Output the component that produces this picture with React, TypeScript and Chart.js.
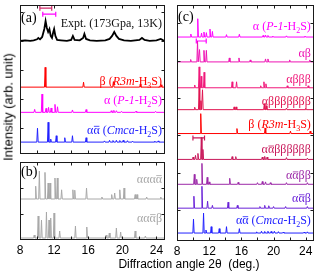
import React, { useEffect, useRef } from 'react';
import { Chart, registerables } from 'chart.js';

Chart.register(...registerables);

const W = 319;
const H = 272;

// ---------------- axes ----------------
const X_MIN = 8;
const X_MAX = 25;
const xTickLabels = [8, 12, 16, 20, 24];
const xMinorTicks = [8, 10, 12, 14, 16, 18, 20, 22, 24];

// ---------------- experimental pattern (2θ, intensity) ----------------
const exptTheta = [8, 8.6, 9.2, 9.6, 10.0, 10.15, 10.35, 10.6, 10.85, 11.0, 11.15, 11.3, 11.45, 11.6, 11.75, 11.9, 12.0, 12.15, 12.35, 12.8, 13.5, 14.0, 14.2, 14.4, 15.0, 15.4, 15.55, 15.75, 16.2, 17.0, 18.0, 18.5, 18.8, 19.05, 19.3, 19.6, 20.2, 21.0, 22.0, 22.3, 22.6, 23.2, 24.0, 24.5, 24.8, 25];
const exptInt = [0, 3, 0, 3, 8, 15, 8, 20, 60, 100, 65, 45, 60, 25, 15, 45, 60, 25, 5, 3, 0, 5, 25, 5, 3, 15, 35, 10, 3, 0, 3, 10, 25, 45, 25, 10, 3, 0, 5, 15, 5, 0, 3, 10, 3, 0];

// ---------------- simulated peak lists (2θ, intensity) ----------------
const betaPos = [10.95, 15.45, 18.95, 22.1, 24.55];
const betaInt = [100, 25, 28, 12, 12];

const alphaPos = [9.72, 10.58, 11.05, 11.35, 11.65, 12.1, 12.4, 14.15, 15.75, 18.7, 19.0, 19.3, 19.9, 21.6, 23.9];
const alphaInt = [15, 92, 20, 25, 22, 40, 28, 12, 14, 8, 10, 8, 5, 6, 5];

const cmcaPos = [10.05, 11.3, 11.6, 12.25, 13.25, 14.15, 15.75, 17.9, 18.5, 18.9, 19.3, 19.7, 20.1, 20.6, 21.2, 23.8, 24.2];
const cmcaInt = [70, 100, 15, 32, 22, 32, 22, 6, 9, 8, 9, 8, 9, 7, 5, 5, 6];

const aaaAPos = [9.84, 10.27, 10.93, 11.3, 11.52, 12.1, 12.37, 12.88, 14.2, 14.42, 15.8, 17.6, 18.75, 19.1, 19.7, 20.2, 21.5, 21.72, 22.85, 24.5];
const aaaAInt = [64, 140, 133, 80, 80, 105, 105, 46, 46, 44, 55, 10, 22, 30, 46, 55, 22, 22, 10, 10];

const aaAbPos = [9.67, 10.13, 10.52, 11.1, 11.4, 11.6, 11.99, 12.65, 14.5, 15.83, 18.1, 18.47, 19.3, 19.8, 21.5, 22.7];
const aaAbInt = [15, 110, 90, 130, 90, 100, 125, 35, 60, 55, 15, 25, 50, 30, 35, 10];

const abPos = [9.7, 10.55, 10.8, 11.35, 11.65, 14.5, 15.7, 17.1, 19.0, 19.3, 22.0, 24.5];
const abInt = [12, 105, 62, 58, 58, 20, 20, 10, 15, 15, 10, 10];

const ab3Pos = [10.2, 10.75, 11.0, 11.37, 14.85, 15.4, 18.4, 18.8, 19.05, 21.7, 24.3];
const ab3Int = [14, 105, 58, 78, 30, 30, 10, 30, 20, 10, 10];

const ab7Pos = [10.2, 10.75, 10.97, 11.17, 15.1, 15.35, 18.85, 19.1, 21.6, 24.0];
const ab7Int = [12, 120, 45, 100, 14, 14, 30, 20, 8, 8];

const aAb6Pos = [10.0, 10.3, 10.6, 11.02, 11.22, 14.85, 15.3, 18.6, 18.9, 19.2, 21.6, 24.2];
const aAb6Int = [12, 20, 30, 110, 50, 14, 14, 12, 15, 12, 9, 6];

const aAbbPos = [10.15, 10.45, 11.1, 11.75, 12.0, 14.55, 15.6, 18.0, 18.6, 19.0, 19.6, 21.6, 24.2];
const aAbbInt = [50, 25, 105, 35, 12, 30, 10, 8, 14, 12, 8, 8, 8];

const aAbPos = [10.1, 11.1, 11.8, 12.4, 14.35, 15.5, 18.3, 18.9, 19.4, 20.0, 21.5, 24.2];
const aAbInt = [60, 110, 35, 14, 30, 14, 8, 14, 12, 8, 8, 8];

// peak-splitting markers (2θ range)
const bracketA1 = [10.33, 11.72];
const bracketA2 = [10.67, 12.19];
const bracketC1 = [10.4, 11.63];
const bracketC2 = [9.98, 11.42];

// labels
const lblExpt = 'Expt. (173Gpa, 13K)';
const lblBeta = 'β (<i>R3m</i>-H<sub>3</sub>S)';
const lblAlpha = 'α (<i>P-1</i>-H<sub>2</sub>S)';
const lblCmca = 'α<o>α</o> (<i>Cmca</i>-H<sub>2</sub>S)';
const lblAaaA = 'ααα<o>α</o>';
const lblAaAb = 'αα<o>α</o>β';
const lblAb = 'αβ';
const lblAb3 = 'αβββ';
const lblAb7 = 'αβββββββ';
const lblAAb6 = 'α<o>α</o>ββββββ';
const lblAAbb = 'α<o>α</o>ββ';
const lblAAb = 'α<o>α</o>β';

// ---------------- styling / layout ----------------
const PEAK_HALF = 0.08;
const AXIS_H = 12 * 1.2 + 2 * 3;

type Trace = { theta?: number[]; ints?: number[]; pos?: number[]; peaks?: number[]; base: number; color: string; width: number; label: string; level: number };
type Bracket = { range: number[]; level: number; color: string };
type Panel = { id: string; left: number; top: number; right: number; bottom: number; yMax: number; yTicks: number[]; showX: boolean; letter: string; letterDy: number; traces: Trace[]; brackets: Bracket[] };

const C_BLACK = '#000000';
const C_RED = '#ff0000';
const C_MAG = '#ff00ff';
const C_BLUE = '#2222ff';
const C_GRAY = '#a8a8a8';
const C_AB = '#ee14b4';
const C_AB3 = '#f0187a';
const C_AB7 = '#e01450';
const C_AAB6 = '#c8185a';
const C_AABB = '#9c2aa8';
const C_AAB = '#6a22d8';

const panels: Panel[] = [
  {
    id: 'a', left: 20, top: 4, right: 165, bottom: 154, yMax: 750,
    yTicks: [130, 276, 422, 568, 715], showX: false, letter: '(a)', letterDy: 17,
    traces: [
      { theta: exptTheta, ints: exptInt, base: 570, color: C_BLACK, width: 1.8, label: lblExpt, level: 640 },
      { pos: betaPos, peaks: betaInt, base: 337, color: C_RED, width: 1, label: lblBeta, level: 350 },
      { pos: alphaPos, peaks: alphaInt, base: 210, color: C_MAG, width: 1, label: lblAlpha, level: 250 },
      { pos: cmcaPos, peaks: cmcaInt, base: 60, color: C_BLUE, width: 1, label: lblCmca, level: 102 },
    ],
    brackets: [
      { range: bracketA1, level: 735, color: '#d02a6a' },
      { range: bracketA2, level: 705, color: C_MAG },
    ],
  },
  {
    id: 'b', left: 20, top: 162, right: 165, bottom: 240, yMax: 390,
    yTicks: [130, 260], showX: true, letter: '(b)', letterDy: 14,
    traces: [
      { pos: aaaAPos, peaks: aaaAInt, base: 205, color: C_GRAY, width: 1, label: lblAaaA, level: 285 },
      { pos: aaAbPos, peaks: aaAbInt, base: 10, color: C_GRAY, width: 1, label: lblAaAb, level: 90 },
    ],
    brackets: [],
  },
  {
    id: 'c', left: 177, top: 4, right: 315, bottom: 241, yMax: 1185,
    yTicks: [155, 343, 531, 719, 907, 1095], showX: true, letter: '(c)', letterDy: 16,
    traces: [
      { pos: alphaPos, peaks: alphaInt, base: 1025, color: C_MAG, width: 1, label: lblAlpha, level: 1060 },
      { pos: abPos, peaks: abInt, base: 900, color: C_AB, width: 1, label: lblAb, level: 925 },
      { pos: ab3Pos, peaks: ab3Int, base: 770, color: C_AB3, width: 1, label: lblAb3, level: 795 },
      { pos: ab7Pos, peaks: ab7Int, base: 660, color: C_AB7, width: 1, label: lblAb7, level: 685 },
      { pos: betaPos, peaks: betaInt, base: 540, color: C_RED, width: 1, label: lblBeta, level: 570 },
      { pos: aAb6Pos, peaks: aAb6Int, base: 410, color: C_AAB6, width: 1, label: lblAAb6, level: 440 },
      { pos: aAbbPos, peaks: aAbbInt, base: 285, color: C_AABB, width: 1, label: lblAAbb, level: 310 },
      { pos: aAbPos, peaks: aAbInt, base: 165, color: C_AAB, width: 1, label: lblAAb, level: 195 },
      { pos: cmcaPos, peaks: cmcaInt, base: 40, color: C_BLUE, width: 1, label: lblCmca, level: 85 },
    ],
    brackets: [
      { range: bracketC1, level: 1005, color: C_MAG },
      { range: bracketC2, level: 518, color: C_AAB6 },
    ],
  },
];

function tracePoints(t: Trace) {
  if (t.theta && t.ints) return t.theta.map((x, i) => ({ x, y: t.base + t.ints![i] }));
  const pts = [{ x: X_MIN, y: t.base }];
  (t.pos || []).forEach((p, i) => {
    pts.push({ x: p - PEAK_HALF, y: t.base }, { x: p, y: t.base + t.peaks![i] }, { x: p + PEAK_HALF, y: t.base });
  });
  pts.push({ x: X_MAX, y: t.base });
  return pts;
}

type Seg = { t: string; italic: boolean; sub: boolean; over: boolean };
function parseRich(s: string): Seg[] {
  const segs: Seg[] = [];
  let italic = false, sub = false, over = false;
  s.split(/(<\/?(?:i|sub|o)>)/).forEach((tok) => {
    if (tok === '<i>') italic = true;
    else if (tok === '</i>') italic = false;
    else if (tok === '<sub>') sub = true;
    else if (tok === '</sub>') sub = false;
    else if (tok === '<o>') over = true;
    else if (tok === '</o>') over = false;
    else if (tok) segs.push({ t: tok, italic, sub, over });
  });
  return segs;
}

function drawRich(ctx: CanvasRenderingContext2D, text: string, xRight: number, yBase: number, color: string, size: number) {
  const segs = parseRich(text);
  const fontOf = (s: Seg) => `${s.italic ? 'italic ' : ''}${s.sub ? Math.round(size * 0.7) : size}px "Liberation Serif"`;
  const widths = segs.map((s) => { ctx.font = fontOf(s); return ctx.measureText(s.t).width; });
  let x = xRight - widths.reduce((a, b) => a + b, 0);
  ctx.fillStyle = color;
  ctx.strokeStyle = color;
  ctx.textAlign = 'left';
  ctx.textBaseline = 'alphabetic';
  segs.forEach((s, i) => {
    ctx.font = fontOf(s);
    ctx.fillText(s.t, x, yBase + (s.sub ? size * 0.25 : 0));
    if (s.over) {
      ctx.lineWidth = 0.8;
      ctx.beginPath();
      const oy = yBase - size * 0.62;
      ctx.moveTo(x + 0.5, oy);
      ctx.lineTo(x + widths[i] - 0.3, oy);
      ctx.stroke();
    }
    x += widths[i];
  });
}

function makeDecor(panel: Panel) {
  return {
    id: 'decor' + panel.id,
    afterDatasetsDraw(chart: any) {
      const { ctx, chartArea: a, scales } = chart;
      const xs = scales.x, ys = scales.y;
      ctx.save();
      panel.traces.forEach((t) => drawRich(ctx, t.label, a.right - 3, ys.getPixelForValue(t.level), t.color === C_BLACK ? '#111' : t.color, 12));
      ctx.font = '14px "Liberation Serif"';
      ctx.fillStyle = '#000';
      ctx.textAlign = 'left';
      ctx.textBaseline = 'alphabetic';
      ctx.fillText(panel.letter, a.left + 1, a.top + panel.letterDy);
      ctx.strokeStyle = '#1a1a1a';
      ctx.lineWidth = 1;
      const L = Math.round(a.left) + 0.5, R = Math.round(a.right) - 0.5;
      const T = Math.round(a.top) + 0.5, B = Math.round(a.bottom) - 0.5;
      ctx.strokeRect(L, T, R - L, B - T);
      ctx.beginPath();
      xMinorTicks.forEach((v) => {
        const px = Math.round(xs.getPixelForValue(v)) + 0.5;
        ctx.moveTo(px, B); ctx.lineTo(px, B - 3);
        ctx.moveTo(px, T); ctx.lineTo(px, T + 3);
      });
      panel.yTicks.forEach((v) => {
        const py = Math.round(ys.getPixelForValue(v)) + 0.5;
        ctx.moveTo(L, py); ctx.lineTo(L + 3, py);
        ctx.moveTo(R, py); ctx.lineTo(R - 3, py);
      });
      ctx.stroke();
      ctx.restore();
    },
  };
}

function PanelChart({ panel }: { panel: Panel }) {
  const ref = useRef<HTMLCanvasElement>(null);
  useEffect(() => {
    const datasets: any[] = panel.traces.map((t) => ({
      data: tracePoints(t),
      showLine: true,
      borderColor: t.color,
      borderWidth: t.width,
      pointRadius: 0,
      fill: false,
      tension: 0,
    }));
    panel.brackets.forEach((b) => {
      datasets.push({
        data: [{ x: b.range[0], y: b.level }, { x: b.range[1], y: b.level }],
        showLine: true,
        borderColor: b.color,
        borderWidth: 1.2,
        pointStyle: 'line',
        rotation: 90,
        pointRadius: 2.5,
        pointBorderColor: b.color,
        pointBorderWidth: 1.2,
        fill: false,
      });
    });
    const bottomPad = panel.showX ? H - panel.bottom - AXIS_H : H - panel.bottom;
    const chart = new Chart(ref.current as HTMLCanvasElement, {
      type: 'scatter',
      data: { datasets },
      options: {
        animation: false,
        responsive: false,
        devicePixelRatio: 1,
        events: [],
        layout: { padding: { left: panel.left, top: panel.top, right: W - panel.right, bottom: bottomPad } },
        plugins: { legend: { display: false }, tooltip: { enabled: false } },
        scales: {
          x: {
            type: 'linear', min: X_MIN, max: X_MAX, display: panel.showX,
            afterBuildTicks: (ax: any) => { ax.ticks = xTickLabels.map((v) => ({ value: v })); },
            ticks: { font: { family: 'Liberation Sans', size: 12 }, color: '#000', padding: 3, autoSkip: false, maxRotation: 0 },
            grid: { display: false, drawTicks: false },
            border: { display: false },
          },
          y: { type: 'linear', min: 0, max: panel.yMax, display: false },
        },
      } as any,
      plugins: [makeDecor(panel)],
    });
    return () => chart.destroy();
  }, [panel]);
  return <canvas ref={ref} width={W} height={H} style={{ position: 'absolute', left: 0, top: 0, width: W, height: H }} />;
}

export default function App() {
  return (
    <div style={{ position: 'absolute', left: 0, top: 0, width: W, height: H, background: '#fff', overflow: 'hidden' }}>
      {panels.map((p) => <PanelChart key={p.id} panel={p} />)}
      <div style={{ position: 'absolute', left: 8, top: 107, transform: 'translate(-50%, -50%) rotate(-90deg)', font: '13px "Liberation Sans"', lineHeight: '13px', whiteSpace: 'nowrap', color: '#000' }}>
        Intensity (arb. unit)
      </div>
      <div style={{ position: 'absolute', left: 189, top: 264, transform: 'translate(-50%, -50%)', font: '12px "Liberation Sans"', lineHeight: '12px', whiteSpace: 'pre', color: '#000' }}>
        {'Diffraction angle 2θ  (deg.)'}
      </div>
    </div>
  );
}
